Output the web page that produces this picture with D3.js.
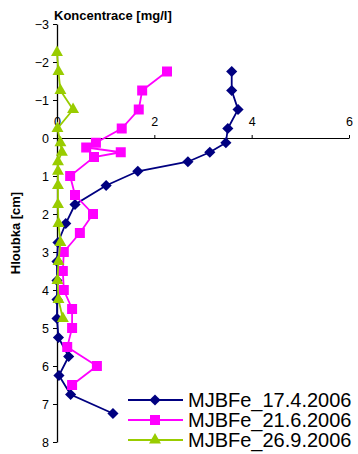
<!DOCTYPE html>
<html>
<head>
<meta charset="utf-8">
<script src="https://cdn.jsdelivr.net/npm/d3@7"></script>
<style>
  body { margin: 0; background: #fff; }
  svg { display: block; font-family: Arial, "Liberation Sans", sans-serif; }
</style>
</head>
<body>
<figure id="chart" style="margin:0"></figure>
<script>
// depth [cm] and concentration [mg/l] per sampling date
const depth17 = [-1.75, -1.25, -0.75, -0.25, 0.125, 0.375, 0.625, 0.875, 1.25, 1.75, 2.25, 2.75, 3.25, 3.75, 4.25, 4.75, 5.25, 5.75, 6.25, 6.75, 7.25];
const conc17  = [3.59, 3.59, 3.72, 3.51, 3.47, 3.14, 2.69, 1.66, 1.01, 0.37, 0.18, 0.02, 0.0, 0.0, 0.0, 0.0, 0.03, 0.24, 0.04, 0.28, 1.15];

const depth21 = [-1.75, -1.25, -0.75, -0.25, 0.125, 0.25, 0.375, 0.5, 1.0, 1.5, 2.0, 2.5, 3.0, 3.5, 4.0, 4.5, 5.0, 5.5, 6.0, 6.5];
const conc21  = [2.26, 1.75, 1.68, 1.33, 0.80, 0.60, 1.31, 0.76, 0.27, 0.37, 0.74, 0.47, 0.14, 0.12, 0.14, 0.31, 0.31, 0.21, 0.82, 0.31];

const depth26 = [-2.25, -1.75, -1.25, -0.75, -0.25, 0.125, 0.375, 0.625, 0.875, 1.25, 1.75, 2.25, 2.75, 3.25, 3.75, 4.25, 4.75];
const conc26  = [0.0, 0.03, 0.07, 0.33, 0.01, 0.07, 0.1, 0.02, 0.02, 0.02, 0.02, 0.03, 0.07, 0.03, 0.01, 0.03, 0.12];

const seriesNames = ["MJBFe_17.4.2006", "MJBFe_21.6.2006", "MJBFe_26.9.2006"];
const xTicks = [0, 2, 4, 6];
const yTicks = [-3, -2, -1, 0, 1, 2, 3, 4, 5, 6, 7, 8];

const W = 358, H = 454;
const svg = d3.select("#chart").append("svg")
  .attr("width", W).attr("height", H);
svg.append("rect").attr("width", W).attr("height", H).attr("fill", "#fff");

const x = d3.scaleLinear().domain([0, 6]).range([57, 349]);
const y = d3.scaleLinear().domain([-3, 8]).range([24, 442]);

// y axis (left, ticks outward)
const yAxis = svg.append("g")
  .attr("transform", "translate(" + x(0) + ",0)")
  .call(d3.axisLeft(y).tickValues(yTicks).tickFormat(d3.format("d"))
    .tickSize(4).tickPadding(4).tickSizeOuter(0));
yAxis.select(".domain").attr("stroke", "#000").attr("stroke-width", 1.3);
yAxis.selectAll("line").attr("stroke", "#000");
yAxis.selectAll("text").attr("font-size", "12.5px").attr("fill", "#000");

// x axis crossing at depth 0, labels above
const xAxis = svg.append("g")
  .attr("transform", "translate(0," + y(0) + ")")
  .call(d3.axisTop(x).tickValues(xTicks).tickFormat(d3.format("d"))
    .tickSize(3).tickPadding(9).tickSizeOuter(0));
xAxis.select(".domain").attr("stroke", "#000").attr("stroke-width", 1);
xAxis.selectAll("line").attr("stroke", "#000");
xAxis.selectAll("text").attr("font-size", "12.5px").attr("fill", "#000");

svg.append("text")
  .attr("x", 54).attr("y", 20)
  .attr("font-size", "13px").attr("font-weight", "bold")
  .text("Koncentrace [mg/l]");

svg.append("text")
  .attr("transform", "translate(20,233) rotate(-90)")
  .attr("text-anchor", "middle")
  .attr("font-size", "13px").attr("font-weight", "bold")
  .text("Hloubka [cm]");

const series = [
  { name: seriesNames[0], depth: depth17, conc: conc17, color: "#000080",
    symbol: d3.symbol(d3.symbolSquare, 62), rot: 45 },
  { name: seriesNames[1], depth: depth21, conc: conc21, color: "#FF00FF",
    symbol: d3.symbol(d3.symbolSquare, 100), rot: 0 },
  { name: seriesNames[2], depth: depth26, conc: conc26, color: "#99CC00",
    symbol: d3.symbol(d3.symbolTriangle, 62), rot: 0 }
];

const line = d3.line()
  .x(d => x(d[0]))
  .y(d => y(d[1]));

series.forEach(s => {
  const pts = s.conc.map((c, i) => [c, s.depth[i]]);
  const g = svg.append("g");
  g.append("path")
    .attr("d", line(pts))
    .attr("fill", "none")
    .attr("stroke", s.color)
    .attr("stroke-width", 1.8);
  g.selectAll("path.m")
    .data(pts)
    .enter()
    .append("path")
    .attr("class", "m")
    .attr("d", s.symbol)
    .attr("transform", d => "translate(" + x(d[0]) + "," + y(d[1]) + ") rotate(" + s.rot + ")")
    .attr("fill", s.color);
});

// legend
const leg = svg.append("g");
series.forEach((s, i) => {
  const ly = 400 + i * 20;
  leg.append("line")
    .attr("x1", 128).attr("x2", 183)
    .attr("y1", ly).attr("y2", ly)
    .attr("stroke", s.color).attr("stroke-width", 1.8);
  leg.append("path")
    .attr("d", s.symbol)
    .attr("transform", "translate(155," + ly + ") rotate(" + s.rot + ")")
    .attr("fill", s.color);
  leg.append("text")
    .attr("x", 188).attr("y", ly + 7)
    .attr("font-size", "20px")
    .text(s.name);
});
</script>
</body>
</html>
